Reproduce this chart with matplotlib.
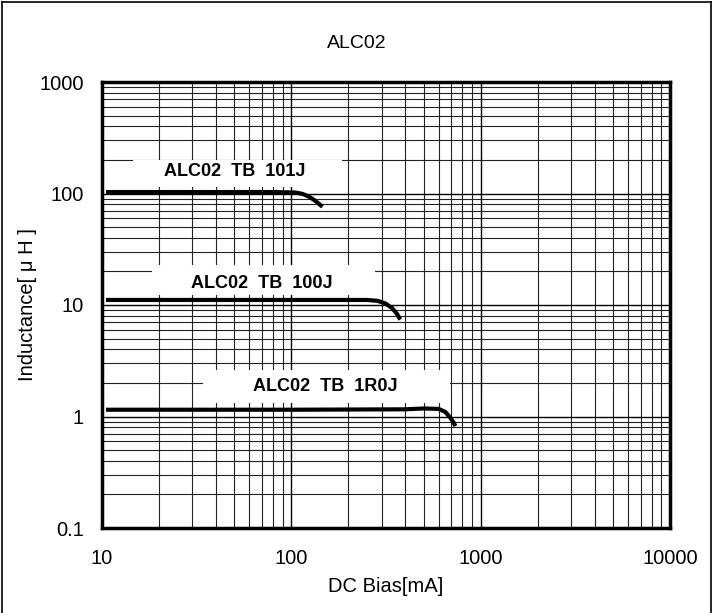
import matplotlib

matplotlib.use("Agg")
import matplotlib.pyplot as plt
from matplotlib.lines import Line2D
from matplotlib.patches import Rectangle

# DC bias [mA] vs inductance [uH]
bias_101j = [10.5, 40, 80, 105, 115, 125, 135, 146]
ind_101j = [103, 103, 103, 102, 99, 93, 85, 76]

bias_100j = [10.5, 100, 250, 285, 315, 340, 360, 376]
ind_100j = [11.1, 11.1, 11.1, 10.9, 10.3, 9.4, 8.4, 7.4]

bias_1r0j = [10.5, 100, 400, 500, 600, 650, 690, 720, 735]
ind_1r0j = [1.15, 1.15, 1.16, 1.18, 1.17, 1.1, 0.98, 0.88, 0.82]

names = ["ALC02  TB  101J", "ALC02  TB  100J", "ALC02  TB  1R0J"]

# label placement: text position and white box (x0, x1, y0, y1) in data units
label_xy = [(50.5, 156), (70, 15.7), (152, 1.84)]
label_box = [(14.6, 185, 114, 200), (18.4, 278, 12.3, 22.8), (34.1, 688, 1.32, 2.61)]

plt.rcParams["font.family"] = ["Liberation Sans", "DejaVu Sans"]

W, H = 718, 613
fig = plt.figure(figsize=(W / 100, H / 100), dpi=100)
ax = fig.add_axes([102 / W, 1 - 528 / H, 568 / W, 446 / H])
ax.set_xscale("log")
ax.set_yscale("log")
ax.set_xlim(10, 10000)
ax.set_ylim(0.1, 1000)

ax.grid(True, which="major", color="black", linewidth=1.0, zorder=0)
ax.grid(True, which="minor", color="#222222", linewidth=0.8, zorder=0)
ax.set_axisbelow(True)
ax.tick_params(which="both", length=0, labelsize=14.5)
ax.tick_params(axis="x", pad=15)
ax.tick_params(axis="y", pad=13)
ax.set_xticks([10, 100, 1000, 10000])
ax.set_xticklabels(["10", "100", "1000", "10000"])
ax.set_yticks([0.1, 1, 10, 100, 1000])
ax.set_yticklabels(["0.1", "1", "10", "100", "1000"])
for s in ax.spines.values():
    s.set_linewidth(2.5)

for (x0, x1, y0, y1) in label_box:
    ax.add_patch(Rectangle((x0, y0), x1 - x0, y1 - y0, facecolor="white",
                           edgecolor="none", zorder=2))

for bx, iy in [(bias_101j, ind_101j), (bias_100j, ind_100j), (bias_1r0j, ind_1r0j)]:
    ax.plot(bx, iy, color="black", linewidth=3.0, solid_capstyle="butt", zorder=3)

for name, (tx, ty) in zip(names, label_xy):
    ax.text(tx, ty, name, ha="center", va="center", fontsize=13,
            fontweight="bold", zorder=4)

fig.text(357 / W, 1 - 43 / H, "ALC02", ha="center", va="center", fontsize=14)
ax.set_xlabel("DC Bias[mA]", fontsize=14.5, va="center")
ax.xaxis.set_label_coords(0.5, (528 - 587) / 446)
ax.set_ylabel("Inductance[ μ H ]", fontsize=14.5, va="center")
ax.yaxis.set_label_coords((28 - 102) / 568, 0.5)

# outer frame of the figure
for xs, ys in [([2, 2], [0, 611]), ([2, 711], [611, 611]), ([711, 711], [0, 611])]:
    fig.add_artist(Line2D([x / W for x in xs], [y / H for y in ys],
                          color="black", linewidth=1.2))

fig.savefig("out.png", dpi=100)
